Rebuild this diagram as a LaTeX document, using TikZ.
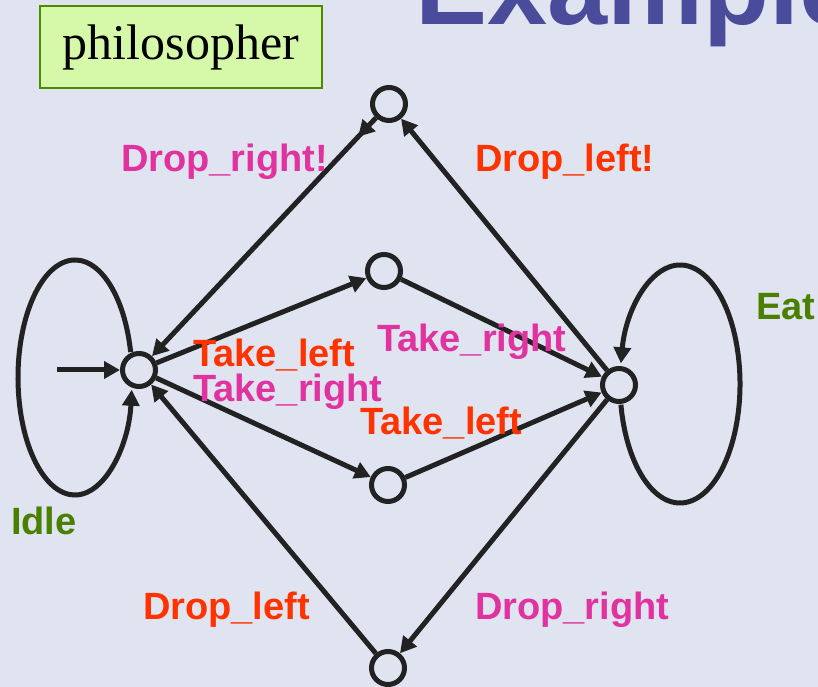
\documentclass[tikz,border=0pt]{standalone}
\usepackage{fontspec}
\setmainfont{Liberation Serif}
\newfontfamily\labfont{Liberation Sans}
\usetikzlibrary{arrows.meta, calc, decorations.markings}
\definecolor{slidebg}{HTML}{DFE4F0}
\definecolor{titleblue}{HTML}{4B4B9B}
\definecolor{sigred}{HTML}{FF3300}
\definecolor{sigpink}{HTML}{E0339F}
\definecolor{locgreen}{HTML}{4A7F00}
\definecolor{boxfill}{HTML}{D5F9A8}
\definecolor{boxline}{HTML}{4E8A00}
\definecolor{inkline}{HTML}{222222}

\begin{document}
\begin{tikzpicture}[x=1pt, y=1pt,
  loc/.style={circle, draw=inkline, line width=5pt, minimum size=33pt, inner sep=0pt},
  arr/.style={-{Triangle[length=16pt,width=17pt]}, line width=5pt, draw=inkline},
  firstmark/.style={postaction={decorate}, decoration={markings,
      mark=at position 26pt with {\arrow[inkline]{Triangle[length=16pt,width=17pt]}}}},
  lab/.style={anchor=base west, inner sep=0pt, font=\labfont\bfseries\fontsize{38}{38}\selectfont}
]
\useasboundingbox (0,0) rectangle (818,687);
\clip (0,0) rectangle (818,687);
\fill[slidebg] (0,0) rectangle (818,687);

% title and template box
\node[anchor=base west, inner sep=0pt, text=titleblue,
      font=\labfont\bfseries\fontsize{108}{108}\selectfont] (title) at (415,662) {Example};
\node[draw=boxline, fill=boxfill, line width=2pt, minimum width=282pt, minimum height=82pt,
      font=\fontsize{50}{50}\selectfont] (tmpl) at (181,640) {philosopher};

% locations
\node[loc] (idle) at (139,317) {};
\node[loc] (top)  at (389,583) {};
\node[loc] (mid1) at (384,416) {};
\node[loc] (mid2) at (388,202) {};
\node[loc] (bot)  at (388,19)  {};
\node[loc] (eat)  at (619,302) {};
\coordinate (init) at (57,317);
\coordinate (idleout) at ($(75,309.5)+(12.5:57 and 117.5)$);
\coordinate (eatout)  at ($(680,303)+(190:60 and 119)$);

% edges
\draw[arr] (init) -- (idle);
\draw[arr] (idleout) arc[start angle=12.5, end angle=354, x radius=57, y radius=117.5];
\draw[arr] (eatout) arc[start angle=190, end angle=530, x radius=60, y radius=119];
\draw[arr] (idle) -- (mid1);
\draw[arr] (mid1) -- (eat);
\draw[arr] (idle) -- (mid2);
\draw[arr] (mid2) -- (eat);
\draw[arr] (eat) -- (top);
\draw[arr, firstmark] (top) -- (idle);
\draw[arr] (bot) -- (idle);
\draw[arr] (eat) -- (bot);

% labels
\node[lab, text=sigpink] (lDropR1) at (121,515) {Drop\_right!};
\node[lab, text=sigred]  (lDropL1) at (475,515) {Drop\_left!};
\node[lab, text=sigred]  (lTakeL1) at (193,320) {Take\_left};
\node[lab, text=sigpink] (lTakeR1) at (193,285) {Take\_right};
\node[lab, text=sigpink] (lTakeR2) at (377,335) {Take\_right};
\node[lab, text=sigred]  (lTakeL2) at (360,252) {Take\_left};
\node[lab, text=sigred]  (lDropL2) at (143,67)  {Drop\_left};
\node[lab, text=sigpink] (lDropR2) at (475,67)  {Drop\_right};
\node[lab, text=locgreen] (lIdle)  at (11,152)  {Idle};
\node[lab, text=locgreen] (lEat)   at (756,367) {Eat};
\end{tikzpicture}
\end{document}
